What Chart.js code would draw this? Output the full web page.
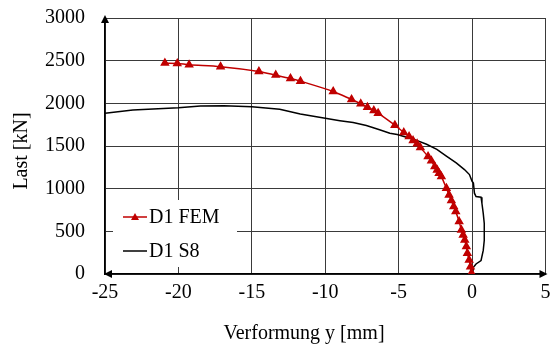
<!DOCTYPE html>
<html>
<head>
<meta charset="utf-8">
<script src="https://cdn.jsdelivr.net/npm/chart.js@4.4.1/dist/chart.umd.min.js"></script>
<style>
  html, body { margin: 0; padding: 0; background: #fff; }
</style>
</head>
<body>
<canvas id="lastChart" width="551" height="352"></canvas>
<script>
// Data
const femLabel = "D1 FEM";
const femX = [-20.92, -20.08, -19.27, -17.13, -14.52, -13.37, -12.37, -11.69, -9.46, -8.21, -7.58, -7.13, -6.69, -6.40,
  -5.26, -4.65, -4.29, -4.02, -3.74, -3.52, -3.00, -2.77, -2.54, -2.38, -2.25, -2.09, -1.75, -1.57, -1.41, -1.25,
  -1.11, -0.88, -0.73, -0.61, -0.50, -0.39, -0.32, -0.20, -0.11, -0.05, 0];
const femY = [2472, 2468, 2452, 2429, 2374, 2331, 2292, 2260, 2139, 2045, 1995, 1955, 1916, 1885,
  1744, 1658, 1611, 1564, 1525, 1482, 1377, 1326, 1259, 1220, 1181, 1142, 1005, 927, 860, 790,
  731, 614, 516, 458, 399, 321, 242, 164, 86, 8, 0];

const s8Label = "D1 S8";
const s8X = [-25, -23.1, -20, -18.5, -16.9, -15, -13.1, -11.7, -10, -9.0, -8.1, -7.2, -6.3, -5.6, -5.1, -4.0, -3.1,
  -2.4, -1.75, -1.08, -0.52, -0.18, 0, 0.09, 0.16, 0.27, 0.61, 0.67, 0.76, 0.83, 0.83, 0.76, 0.61, 0.27, 0.09, 0.04];
const s8Y = [1883, 1922, 1949, 1969, 1973, 1961, 1930, 1875, 1824, 1797, 1776, 1740, 1690, 1650, 1635, 1580, 1520,
  1461, 1382, 1303, 1224, 1165, 1086, 1066, 947, 908, 900, 829, 711, 592, 395, 276, 158, 118, 79, 0];

const xTicks = [-25, -20, -15, -10, -5, 0, 5];
const yTicks = [0, 500, 1000, 1500, 2000, 2500, 3000];
const xTitle = "Verformung y [mm]";
const yTitle = "Last [kN]";

const serif = "'Liberation Serif', 'Times New Roman', serif";
const red = "#C00000";

// axis arrows, axis titles and the legend box (sits inside the plot) drawn by hand
const extras = {
  id: "extras",
  afterDraw(chart) {
    const { ctx, chartArea: a } = chart;
    ctx.save();
    ctx.fillStyle = "#000";
    // arrow up on y axis
    ctx.beginPath();
    ctx.moveTo(a.left, a.top - 3);
    ctx.lineTo(a.left - 4, a.top + 5);
    ctx.lineTo(a.left + 4, a.top + 5);
    ctx.fill();
    // arrows on x axis, both ends
    ctx.beginPath();
    ctx.moveTo(a.left - 1, a.bottom);
    ctx.lineTo(a.left + 7, a.bottom - 4);
    ctx.lineTo(a.left + 7, a.bottom + 4);
    ctx.fill();
    ctx.beginPath();
    ctx.moveTo(a.right + 2, a.bottom);
    ctx.lineTo(a.right - 6, a.bottom - 4);
    ctx.lineTo(a.right - 6, a.bottom + 4);
    ctx.fill();

    // axis titles
    ctx.font = "20px " + serif;
    ctx.textAlign = "center";
    ctx.textBaseline = "alphabetic";
    ctx.fillText(xTitle, 304, 339);
    ctx.save();
    ctx.translate(27, 151);
    ctx.rotate(-Math.PI / 2);
    ctx.fillText(yTitle, 0, 0);
    ctx.restore();

    // legend
    ctx.fillStyle = "#fff";
    ctx.fillRect(113, 200, 124, 67);
    const rows = [
      { ds: chart.data.datasets[0], y: 217 },
      { ds: chart.data.datasets[1], y: 251 }
    ];
    rows.forEach(r => {
      ctx.strokeStyle = r.ds.borderColor;
      ctx.lineWidth = 1.5;
      ctx.beginPath();
      ctx.moveTo(123, r.y);
      ctx.lineTo(147, r.y);
      ctx.stroke();
      if (r.ds.pointRadius > 0) {
        ctx.fillStyle = r.ds.pointBackgroundColor;
        ctx.beginPath();
        ctx.moveTo(135, r.y - 4);
        ctx.lineTo(139, r.y + 3);
        ctx.lineTo(131, r.y + 3);
        ctx.fill();
      }
      ctx.fillStyle = "#000";
      ctx.font = "20px " + serif;
      ctx.textBaseline = "middle";
      ctx.textAlign = "left";
      ctx.fillText(r.ds.label, 149, r.y + 1);
    });
    ctx.restore();
  }
};

const config = {
  type: "scatter",
  data: {
    datasets: [
      {
        label: femLabel,
        data: femX.map((x, i) => ({ x: x, y: femY[i] })),
        showLine: true,
        borderColor: red,
        backgroundColor: red,
        pointBackgroundColor: red,
        pointBorderColor: red,
        borderWidth: 1.5,
        pointStyle: "triangle",
        pointRadius: 4,
        tension: 0.3,
        order: 1
      },
      {
        label: s8Label,
        data: s8X.map((x, i) => ({ x: x, y: s8Y[i] })),
        showLine: true,
        borderColor: "#000",
        backgroundColor: "#000",
        borderWidth: 1.5,
        pointRadius: 0,
        tension: 0,
        order: 2
      }
    ]
  },
  options: {
    responsive: false,
    animation: false,
    layout: { padding: { top: 18, right: 5, left: 0, bottom: 0 } },
    plugins: { legend: { display: false }, tooltip: { enabled: false } },
    scales: {
      x: {
        type: "linear",
        min: -25,
        max: 5,
        afterBuildTicks: s => { s.ticks = xTicks.map(v => ({ value: v })); },
        afterFit: s => { s.height = 78; s.paddingLeft = 0; s.paddingRight = 0; },
        grid: { color: "#3a3a3a", lineWidth: 1, drawTicks: false },
        border: { color: "#000", width: 1.5 },
        ticks: { color: "#000", font: { family: serif, size: 20 }, padding: 7, maxRotation: 0, callback: v => String(v) }
      },
      y: {
        type: "linear",
        min: 0,
        max: 3000,
        afterBuildTicks: s => { s.ticks = yTicks.map(v => ({ value: v })); },
        afterFit: s => { s.width = 105; s.paddingTop = 0; s.paddingBottom = 0; },
        grid: { color: "#3a3a3a", lineWidth: 1, drawTicks: false },
        border: { color: "#000", width: 1.5 },
        ticks: { color: "#000", font: { family: serif, size: 20 }, padding: 20, callback: v => String(v) }
      }
    }
  },
  plugins: [extras]
};

const lastChart = new Chart(document.getElementById("lastChart"), config);
</script>
</body>
</html>
